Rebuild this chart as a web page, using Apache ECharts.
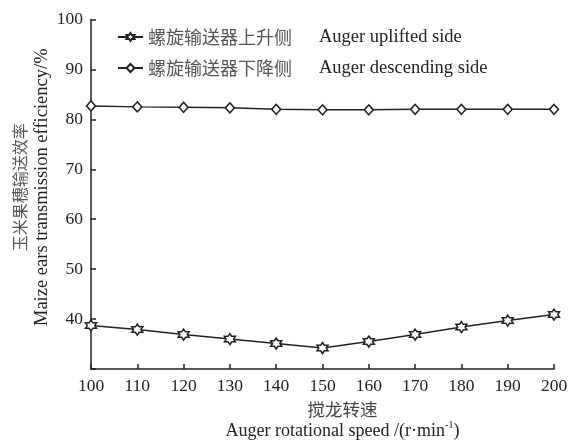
<!DOCTYPE html>
<html><head><meta charset="utf-8">
<script src="https://cdn.jsdelivr.net/npm/echarts@6/dist/echarts.min.js"></script>
<style>html,body{margin:0;padding:0;background:#fff}#c{width:570px;height:444px}</style>
</head><body><div id="c"></div>
<script>
const speeds = [100, 110, 120, 130, 140, 150, 160, 170, 180, 190, 200];
const uplifted = [38.7, 37.9, 36.9, 36.0, 35.1, 34.2, 35.5, 36.9, 38.4, 39.7, 40.9];
const descending = [82.7, 82.5, 82.4, 82.3, 82.0, 81.9, 81.9, 82.0, 82.0, 82.0, 82.0];
const seriesNamesZh = ['螺旋输送器上升侧', '螺旋输送器下降侧'];
const seriesNamesEn = ['Auger uplifted side', 'Auger descending side'];
const yTicks = [30, 40, 50, 60, 70, 80, 90, 100];
const xNameZh = '搅龙转速';
const xNameEn = 'Auger rotational speed /(r·min';
const xNameSup = '-1';
const yNameZh = '玉米果穗输送效率';
const yNameEn = 'Maize ears transmission efficiency/%';

const SERIF = '"Liberation Serif", "DejaVu Serif", serif';
const CJK = '"Noto Sans CJK SC", sans-serif';
const INK = '#222';
const star = 'path://M0,-10 L2.9,-5 L8.66,-5 L5.8,0 L8.66,5 L2.9,5 L0,10 L-2.9,5 L-8.66,5 L-5.8,0 L-8.66,-5 L-2.9,-5 Z';

const chart = echarts.init(document.getElementById('c'), null, {renderer: 'canvas'});
chart.setOption({
  animation: false,
  backgroundColor: '#fff',
  grid: {left: 91, right: 16, top: 19.5, bottom: 75, containLabel: false, outerBoundsMode: 'none'},
  legend: {
    orient: 'vertical', left: 117, top: 27, padding: 0, itemWidth: 25, itemHeight: 10, itemGap: 11,
    data: seriesNamesZh,
    formatter: function (n) { const i = seriesNamesZh.indexOf(n); return '{zh|' + n + '}{en|' + seriesNamesEn[i] + '}'; },
    textStyle: {
      lineHeight: 20,
      rich: {
        zh: {fontFamily: CJK, fontSize: 18, color: '#555', width: 171, lineHeight: 20},
        en: {fontFamily: SERIF, fontSize: 18.5, color: INK, lineHeight: 20}
      }
    }
  },
  xAxis: {
    type: 'value', min: speeds[0], max: speeds[speeds.length - 1], interval: 10,
    splitLine: {show: false},
    axisLine: {lineStyle: {color: INK, width: 1.5}},
    axisTick: {inside: true, length: 5, lineStyle: {color: INK, width: 1.5}},
    axisLabel: {fontFamily: SERIF, fontSize: 17.5, color: INK, margin: 8},
    name: '{zh|' + xNameZh + '}\n{en|' + xNameEn + '}{sup|' + xNameSup + '}{en|)}',
    nameLocation: 'middle', nameGap: 29, nameMoveOverlap: false,
    nameTextStyle: {
      padding: [0, 0, 0, 40],
      rich: {
        zh: {fontFamily: CJK, fontSize: 17.5, color: '#444', lineHeight: 22},
        en: {fontFamily: SERIF, fontSize: 18, color: INK, lineHeight: 22},
        sup: {fontFamily: SERIF, fontSize: 10, color: INK, lineHeight: 22, verticalAlign: 'top', padding: [0, 0, 8, 0]}
      }
    }
  },
  yAxis: {
    type: 'value', min: yTicks[0], max: yTicks[yTicks.length - 1], interval: 10,
    splitLine: {show: false},
    axisLine: {lineStyle: {color: INK, width: 1.5}},
    axisTick: {inside: true, length: 5, lineStyle: {color: INK, width: 1.5}},
    axisLabel: {fontFamily: SERIF, fontSize: 17.5, color: INK, margin: 8,
      formatter: function (v) { return v === yTicks[0] ? '' : String(v); }},
    name: '{zh|' + yNameZh + '}\n{en|' + yNameEn + '}',
    nameLocation: 'middle', nameGap: 37, nameRotate: 90, nameMoveOverlap: false,
    nameTextStyle: {
      padding: [0, 0, 0, 14],
      rich: {
        zh: {fontFamily: CJK, fontSize: 16, color: '#555', lineHeight: 23},
        en: {fontFamily: SERIF, fontSize: 18.5, color: INK, lineHeight: 23}
      }
    }
  },
  series: [
    {
      name: seriesNamesZh[0], type: 'line',
      data: speeds.map((s, i) => [s, uplifted[i]]),
      symbol: star, symbolSize: 11,
      lineStyle: {color: INK, width: 1.5},
      itemStyle: {color: '#fff', borderColor: INK, borderWidth: 1.5}
    },
    {
      name: seriesNamesZh[1], type: 'line',
      data: speeds.map((s, i) => [s, descending[i]]),
      symbol: 'diamond', symbolSize: [9, 10],
      lineStyle: {color: INK, width: 1.5},
      itemStyle: {color: '#fff', borderColor: INK, borderWidth: 1.5}
    }
  ]
});
</script></body></html>
